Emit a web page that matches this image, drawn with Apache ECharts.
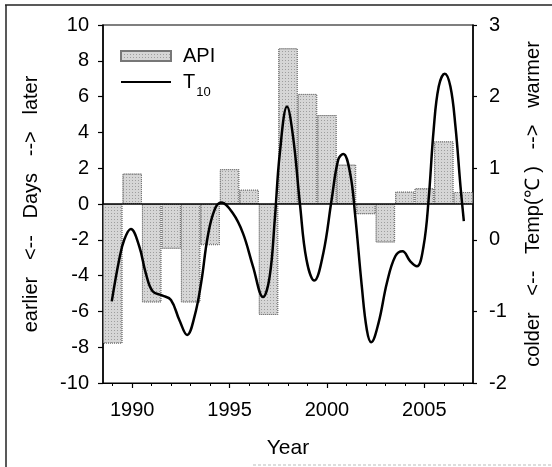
<!DOCTYPE html>
<html>
<head>
<meta charset="utf-8">
<script src="https://cdn.jsdelivr.net/npm/echarts@6/dist/echarts.min.js"></script>
<style>
  html, body { margin: 0; padding: 0; background: #fff; }
  #chart { width: 552px; height: 467px; }
</style>
</head>
<body>
<div id="chart"></div>
<script>
// Bar categories (years) and API values (days, left axis)
const years = ['1989','1990','1991','1992','1993','1994','1995','1996','1997','1998',
               '1999','2000','2001','2002','2003','2004','2005','2006','2007'];
const apiValues = [-7.8, 1.7, -5.5, -2.5, -5.5, -2.3, 1.95, 0.8, -6.2, 8.7,
                   6.15, 4.97, 2.2, -0.57, -2.15, 0.69, 0.88, 3.5, 0.67];

// T10 smoothed temperature curve, right axis
const t10Years = [1988.95, 1989.33, 1989.59, 1989.93, 1990.36, 1990.7, 1991.05, 1991.56, 1991.99,
                  1992.42, 1992.82, 1993.2, 1993.54, 1993.88, 1994.23, 1994.57, 1995.17, 1995.69,
                  1996.2, 1996.72, 1997.06, 1997.32, 1997.58, 1997.95, 1998.26, 1998.61, 1998.95,
                  1999.35, 1999.81, 2000.24, 2000.58, 2000.84, 2001.19, 2001.44, 2001.79, 2002.05,
                  2002.27, 2002.65, 2003.08, 2003.51, 2003.88, 2004.28, 2004.62, 2004.96, 2005.22,
                  2005.48, 2005.74, 2006.05, 2006.34, 2006.6, 2006.86, 2007.03];
const t10Values = [-0.86, -0.28, 0.0, 0.15, -0.09, -0.47, -0.72, -0.78, -0.84,
                   -1.12, -1.33, -1.07, -0.6, 0.05, 0.42, 0.52, 0.37, 0.09,
                   -0.37, -0.80, -0.51, 0.28, 1.21, 1.86, 1.44, 0.51, -0.28,
                   -0.57, -0.19, 0.56, 1.12, 1.20, 0.93, 0.37, -0.65, -1.26,
                   -1.43, -1.16, -0.6, -0.23, -0.16, -0.30, -0.37, -0.09, 0.56,
                   1.54, 2.14, 2.32, 2.14, 1.58, 0.74, 0.26];

// Tick labels
const xMajorTicks = [1990, 1995, 2000, 2005];
const xMinorTicks = [1989, 1990, 1991, 1992, 1993, 1994, 1995, 1996, 1997, 1998,
                     1999, 2000, 2001, 2002, 2003, 2004, 2005, 2006, 2007];

const FONT = 'Liberation Sans, Arial, sans-serif';
const chart = echarts.init(document.getElementById('chart'), null, { renderer: 'canvas' });

const linePairs = t10Years.map((x, i) => [x, t10Values[i]]);

const barDecal = {
  symbol: 'rect', symbolSize: 1, color: 'rgba(90,90,90,0.45)',
  dashArrayX: [1, 2], dashArrayY: [1, 2], rotation: 0
};

chart.setOption({
  animation: false,
  backgroundColor: '#fff',
  textStyle: { fontFamily: FONT, color: '#000' },
  grid: {
    left: 103, right: 79, top: 25, bottom: 84,
    show: true, borderColor: '#000', borderWidth: 1.2, backgroundColor: 'transparent'
  },
  legend: {
    orient: 'vertical',
    left: 120, top: 46,
    itemWidth: 50, itemHeight: 10, itemGap: 6,
    padding: 0,
    textStyle: {
      fontFamily: FONT, fontSize: 20, color: '#000', padding: [0, 0, 0, 7],
      rich: {
        t: { fontFamily: FONT, fontSize: 20, lineHeight: 20, verticalAlign: 'top', color: '#000' },
        s: { fontFamily: FONT, fontSize: 13, lineHeight: 13, verticalAlign: 'top', padding: [14, 0, 0, 1], color: '#000' }
      }
    },
    formatter: function (name) { return name === 'T10' ? '{t|T}{s|10}' : name; },
    data: [
      { name: 'API', icon: 'rect' },
      { name: 'T10', itemStyle: { opacity: 0, color: 'rgba(0,0,0,0)', borderColor: 'rgba(0,0,0,0)' } }
    ]
  },
  xAxis: [
    {
      type: 'category', data: years, gridIndex: 0,
      boundaryGap: true, show: false
    },
    {
      type: 'value', min: 1988.5, max: 2007.5, position: 'bottom',
      name: 'Year', nameLocation: 'middle', nameGap: 55,
      nameTextStyle: { fontFamily: FONT, fontSize: 21, color: '#000' },
      axisLine: { show: true, onZero: false, lineStyle: { color: '#000', width: 1 } },
      axisTick: { show: true, customValues: xMajorTicks, length: 5, lineStyle: { color: '#000', width: 1.2 } },
      axisLabel: { customValues: xMajorTicks, fontFamily: FONT, fontSize: 20, color: '#000', margin: 17,
                   formatter: v => String(v) },
      splitLine: { show: false }
    },
    {
      type: 'value', min: 1988.5, max: 2007.5, position: 'bottom',
      axisLine: { show: false, onZero: false },
      axisTick: { show: true, customValues: xMinorTicks, length: 3, lineStyle: { color: '#000', width: 1 } },
      axisLabel: { show: false },
      splitLine: { show: false }
    }
  ],
  yAxis: [
    {
      type: 'value', min: -10, max: 10, interval: 2, position: 'left',
      name: 'earlier   <--   Days   -->   later', nameLocation: 'middle', nameGap: 62, nameRotate: 90,
      nameTextStyle: { fontFamily: FONT, fontSize: 20, color: '#000' },
      axisLine: { show: true, onZero: false, lineStyle: { color: '#000', width: 1.5 } },
      axisTick: { show: true, length: 5, lineStyle: { color: '#000', width: 1.2 } },
      axisLabel: { fontFamily: FONT, fontSize: 20, color: '#000', margin: 14 },
      splitLine: { show: false }
    },
    {
      type: 'value', min: -2, max: 3, interval: 1, position: 'right',
      name: 'colder   <--   Temp(℃ )   -->   warmer', nameLocation: 'middle', nameGap: 50, nameRotate: 90,
      nameTextStyle: { fontFamily: FONT, fontSize: 20, color: '#000' },
      axisLine: { show: true, onZero: false, lineStyle: { color: '#000', width: 1.5 } },
      axisTick: { show: true, length: 4, lineStyle: { color: '#000', width: 1.2 } },
      axisLabel: { fontFamily: FONT, fontSize: 20, color: '#000', margin: 16 },
      splitLine: { show: false }
    }
  ],
  series: [
    {
      name: 'API', type: 'bar', xAxisIndex: 0, yAxisIndex: 0,
      data: apiValues, barWidth: '100%', barGap: '0%',
      itemStyle: { color: '#d6d6d6', borderColor: '#777', borderWidth: 1, borderType: 'dotted', decal: barDecal },
      markLine: {
        silent: true, symbol: 'none', label: { show: false },
        lineStyle: { color: '#000', width: 1.5, type: 'solid' },
        data: [{ yAxis: 0 }]
      },
      z: 2
    },
    {
      name: 'T10', type: 'line', xAxisIndex: 1, yAxisIndex: 1,
      data: linePairs, smooth: 0.4, symbol: 'none', showSymbol: false,
      lineStyle: { color: '#000', width: 2.5 },
      itemStyle: { color: '#000' },
      z: 3
    }
  ],
  graphic: [
    { type: 'line', shape: { x1: 5, y1: 5, x2: 552, y2: 5 }, style: { stroke: '#222', lineWidth: 1.5 } },
    { type: 'line', shape: { x1: 6, y1: 5, x2: 6, y2: 467 }, style: { stroke: '#222', lineWidth: 1.5 } },
    { type: 'line', shape: { x1: 253, y1: 465, x2: 552, y2: 465 }, style: { stroke: '#bbb', lineWidth: 1, lineDash: [3, 2] } }
  ]
});
</script>
</body>
</html>
